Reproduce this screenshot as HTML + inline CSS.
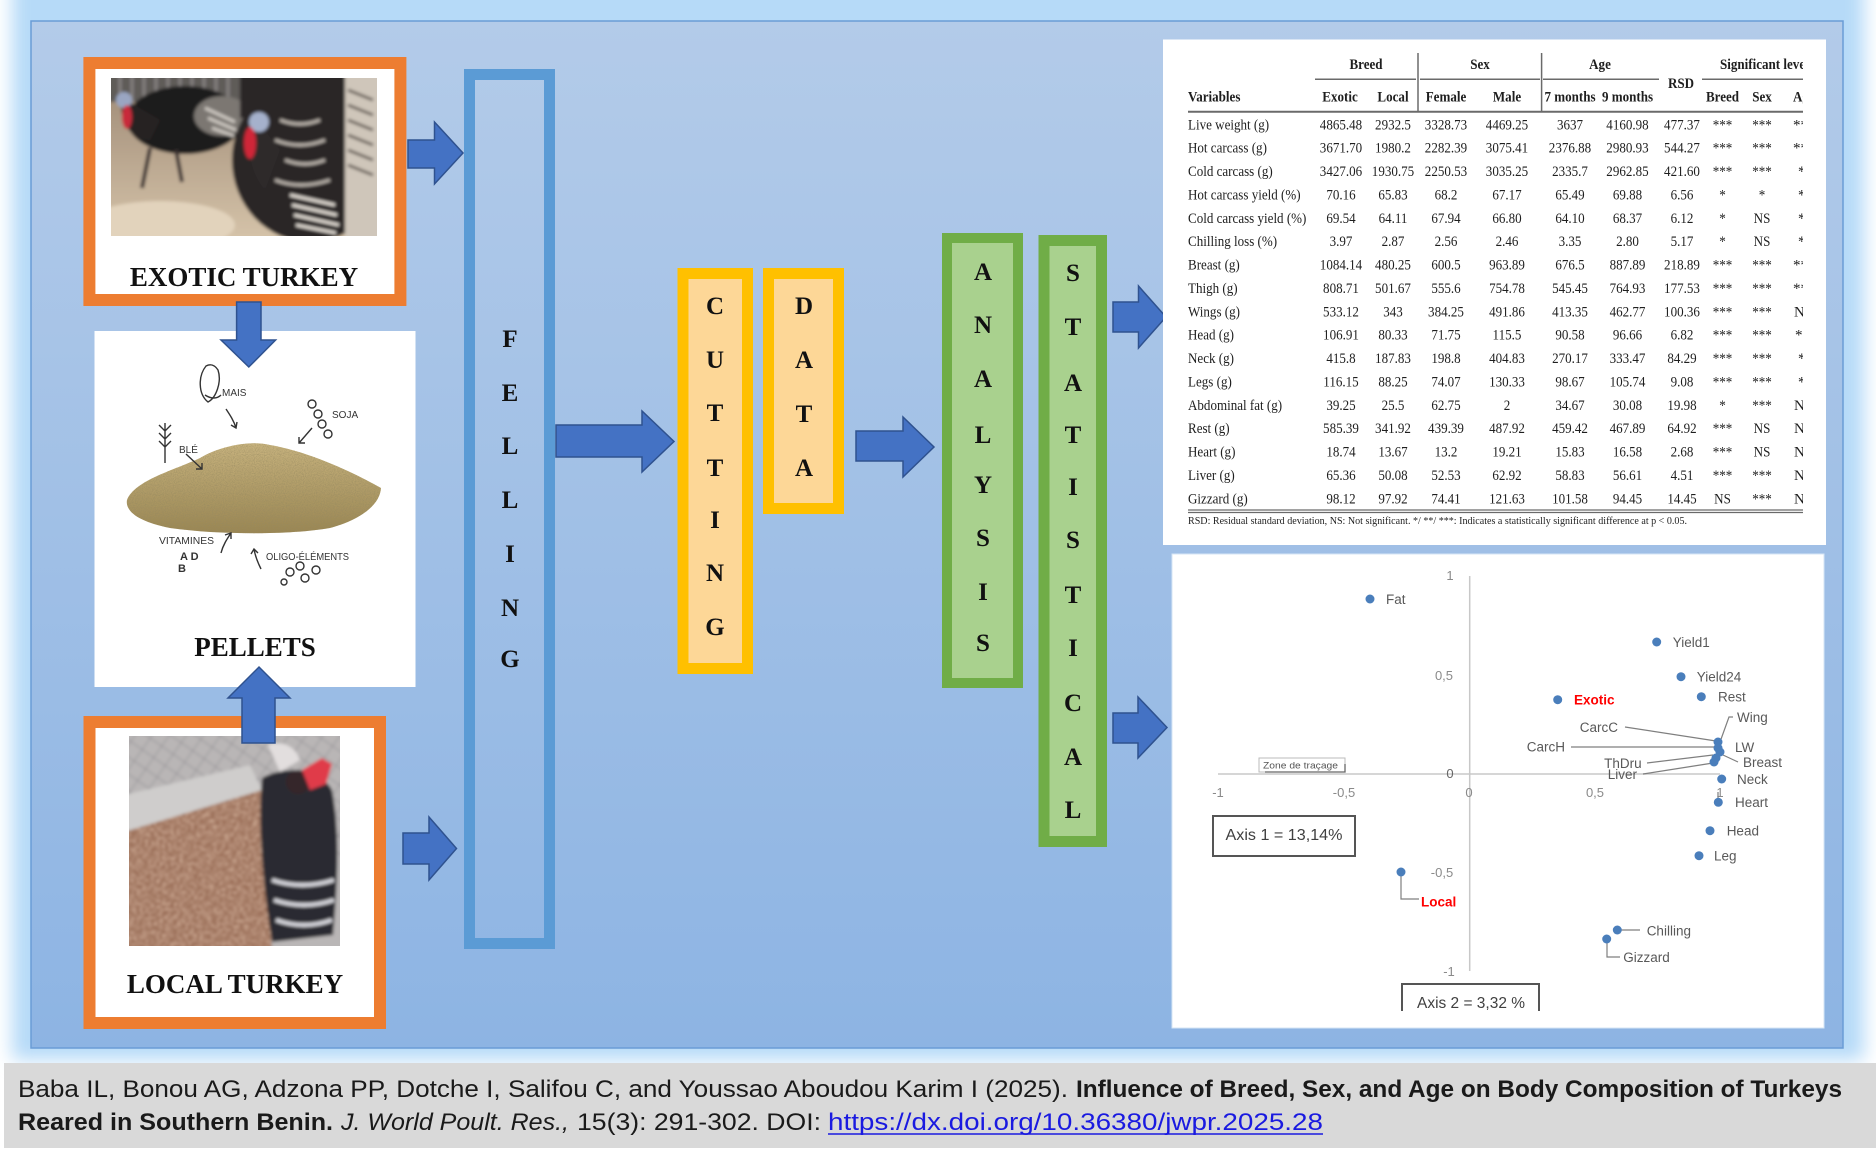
<!DOCTYPE html>
<html><head><meta charset="utf-8">
<style>
html,body{margin:0;padding:0;background:#fff;}
svg{display:block}
.tc{transform-box:fill-box;transform-origin:center;transform:scaleX(.87)}
.tl{transform-box:fill-box;transform-origin:left center;transform:scaleX(.87)}
</style></head>
<body>
<svg width="1876" height="1157" viewBox="0 0 1876 1157" xmlns="http://www.w3.org/2000/svg">
<defs>
  <linearGradient id="panel" x1="0" y1="0" x2="0" y2="1">
    <stop offset="0" stop-color="#b3cbe9"/>
    <stop offset="1" stop-color="#8db4e3"/>
  </linearGradient>
  <filter id="blur" x="-5%" y="-5%" width="110%" height="110%"><feGaussianBlur stdDeviation="9"/></filter>
  <filter id="soft" x="-5%" y="-5%" width="110%" height="110%"><feGaussianBlur stdDeviation="1.6"/></filter>
  <linearGradient id="floor" x1="0" y1="0" x2="0" y2="1">
    <stop offset="0" stop-color="#9c8874"/>
    <stop offset="1" stop-color="#d6c4aa"/>
  </linearGradient>
  <linearGradient id="pile" x1="0" y1="0" x2="0" y2="1">
    <stop offset="0" stop-color="#c9b47f"/>
    <stop offset="1" stop-color="#9a8652"/>
  </linearGradient>
  <filter id="grain"><feTurbulence type="fractalNoise" baseFrequency="0.9" numOctaves="2" result="n"/><feColorMatrix in="n" type="matrix" values="0 0 0 0 0.3  0 0 0 0 0.25  0 0 0 0 0.12  0 0 0 1.4 -0.5" result="c"/><feComposite in="c" in2="SourceGraphic" operator="in" result="t"/><feMerge><feMergeNode in="SourceGraphic"/><feMergeNode in="t"/></feMerge></filter>
  <filter id="litter"><feTurbulence type="fractalNoise" baseFrequency="0.35" numOctaves="2" result="n"/><feColorMatrix in="n" type="matrix" values="0 0 0 0 0.85  0 0 0 0 0.6  0 0 0 0 0.45  0 0 0 1.6 -0.6" result="c"/><feComposite in="c" in2="SourceGraphic" operator="in" result="t"/><feMerge><feMergeNode in="SourceGraphic"/><feMergeNode in="t"/></feMerge></filter>
  <clipPath id="cp1"><rect x="111" y="78" width="266" height="158"/></clipPath>
  <clipPath id="cp2"><rect x="129" y="736" width="211" height="210"/></clipPath>
  <clipPath id="cpt"><rect x="1163" y="40" width="640" height="505"/></clipPath>
  <pattern id="mesh" width="14" height="14" patternUnits="userSpaceOnUse" patternTransform="rotate(35)">
    <rect width="14" height="14" fill="none"/>
    <path d="M0 0 H14 M0 0 V14" stroke="#8e8c90" stroke-width="1.4"/>
  </pattern>
</defs>

<!-- outer glow -->
<rect x="0" y="0" width="1876" height="1157" fill="#fff"/>
<rect x="12" y="-30" width="1852" height="1090" fill="#b6daf8" filter="url(#blur)"/>
<!-- panel -->
<rect x="31" y="21" width="1812" height="1027" fill="url(#panel)" stroke="#6a9cd6" stroke-width="1.5"/>

<!-- footer -->
<rect x="4" y="1063" width="1872" height="85" fill="#d9d9d9"/>
<g font-family="Liberation Sans, Arial, sans-serif" font-size="24" fill="#1a1a1a">
  <text x="18" y="1097" textLength="1050" lengthAdjust="spacingAndGlyphs">Baba IL, Bonou AG, Adzona PP, Dotche I, Salifou C, and Youssao Aboudou Karim I (2025).</text>
  <text x="1076" y="1097" font-weight="bold" textLength="766" lengthAdjust="spacingAndGlyphs">Influence of Breed, Sex, and Age on Body Composition of Turkeys</text>
  <text x="18" y="1130" font-weight="bold" textLength="315" lengthAdjust="spacingAndGlyphs">Reared in Southern Benin.</text>
  <text x="341" y="1130" font-style="italic" textLength="228" lengthAdjust="spacingAndGlyphs">J. World Poult. Res.,</text>
  <text x="577" y="1130" textLength="244" lengthAdjust="spacingAndGlyphs">15(3): 291-302. DOI:</text>
  <text x="828" y="1130" fill="#1a1ae0" textLength="495" lengthAdjust="spacingAndGlyphs">https://dx.doi.org/10.36380/jwpr.2025.28</text>
  <line x1="828" y1="1134" x2="1323" y2="1134" stroke="#1a1ae0" stroke-width="1.5"/>
</g>

<!-- EXOTIC box -->
<rect x="89.4" y="63" width="311" height="237" fill="#fff" stroke="#ed7d31" stroke-width="12"/>
<g clip-path="url(#cp1)">
 <g filter="url(#soft)">
  <rect x="105" y="72" width="280" height="170" fill="url(#floor)"/>
  <rect x="105" y="72" width="141" height="30" fill="#5f5b59"/>
  <path d="M120 72V102M132 72V102M144 72V102M156 72V102M168 72V102M180 72V102M192 72V102M204 72V102M216 72V102M228 72V102" stroke="#858180" stroke-width="3"/>
  <ellipse cx="160" cy="225" rx="75" ry="24" fill="#e2d3bc"/>
  <ellipse cx="185" cy="120" rx="58" ry="34" fill="#1f1c1d"/>
  <ellipse cx="222" cy="116" rx="28" ry="20" fill="#7c7772"/>
  <path d="M205 108 l30 14 M208 118 l28 12 M212 128 l22 8" stroke="#d0cbc4" stroke-width="3"/>
  <path d="M150 148 L142 188 M176 150 L182 182" stroke="#3a3030" stroke-width="4"/>
  <path d="M122 98 C118 120 130 140 150 140 L160 120 Z" fill="#262224"/>
  <circle cx="124" cy="100" r="8" fill="#9aa6c2"/>
  <ellipse cx="127" cy="117" rx="5" ry="12" fill="#c82a3a"/>
  <rect x="240" y="72" width="145" height="46" fill="#2a2627"/>
  <ellipse cx="310" cy="160" rx="78" ry="82" fill="#2b2728"/>
  <rect x="345" y="72" width="40" height="170" fill="#cfc6ba"/>
  <path d="M348 90 l25 10 M348 105 l25 10 M348 120 l25 10 M348 135 l25 10 M348 150 l25 10 M348 165 l25 10" stroke="#6a625c" stroke-width="3"/>
  <path d="M280 120 q20 8 40 0 M275 140 q25 10 50 0 M285 160 q20 8 40 0 M275 180 q25 10 55 0" stroke="#bdb6ae" stroke-width="3" fill="none"/>
  <path d="M290 195 l45 10 M292 205 l45 10 M294 215 l45 10 M296 225 l40 8" stroke="#e6e0d8" stroke-width="3"/>
  <path d="M255 118 C245 140 248 170 265 190 L280 150 Z" fill="#2e2a2b"/>
  <circle cx="259" cy="122" r="10" fill="#a5b1cc"/>
  <ellipse cx="250" cy="143" rx="6" ry="16" fill="#d02838"/>
 </g>
</g>
<text x="244" y="286" text-anchor="middle" font-family="Liberation Serif, Times New Roman, serif" font-weight="bold" font-size="27" fill="#111">EXOTIC TURKEY</text>

<!-- PELLETS box -->
<rect x="94.5" y="331" width="321" height="356" fill="#fff"/>
<path d="M127,500 C135,480 175,470 200,458 C220,446 250,440 270,445 C300,450 340,465 381,488 C380,505 360,520 330,528 C290,535 220,535 170,528 C140,522 125,512 127,500 Z" fill="url(#pile)" filter="url(#grain)"/>
<g fill="none" stroke="#333" stroke-width="1.4">
  <path d="M206 366 c-8 10 -8 28 2 36 c8 -4 14 -20 10 -32 c-4 -6 -8 -6 -12 -4 z"/>
  <path d="M205 395 c6 4 12 4 16 0"/>
  <path d="M226 409 c4 6 8 12 10 19 m-5 -3 l5 3 l1 -6"/>
  <circle cx="312" cy="404" r="4"/><circle cx="318" cy="414" r="4"/><circle cx="322" cy="424" r="4"/><circle cx="328" cy="434" r="4"/>
  <path d="M312 428 l-13 15 m0 -6 l0 6 l6 0"/>
  <path d="M165 463 v-40 m0 8 l-6 -6 m6 14 l-6 -6 m6 14 l-6 -6 m6 -10 l6 -6 m-6 14 l6 -6 m-6 14 l6 -6"/>
  <path d="M186 454 l16 15 m-6 0 l6 0 l0 -6"/>
  <path d="M221 553 c2 -8 6 -14 10 -20 m-6 2 l6 -2 l0 6"/>
  <path d="M261 569 c-4 -8 -6 -14 -7 -20 m-3 5 l3 -5 l4 4"/>
  <circle cx="290" cy="572" r="4"/><circle cx="300" cy="566" r="4"/><circle cx="305" cy="578" r="4"/><circle cx="316" cy="570" r="4"/><circle cx="284" cy="582" r="3"/>
</g>
<g font-family="Liberation Sans, Arial, sans-serif" font-size="10" fill="#333">
  <text x="222" y="396">MAIS</text>
  <text x="332" y="418">SOJA</text>
  <text x="179" y="453">BLÉ</text>
  <text x="159" y="544" textLength="55" lengthAdjust="spacingAndGlyphs">VITAMINES</text>
  <text x="266" y="560" textLength="83" lengthAdjust="spacingAndGlyphs">OLIGO-ÉLÉMENTS</text>
  <text x="180" y="560" font-weight="bold" font-size="11">A  D</text>
  <text x="178" y="572" font-weight="bold" font-size="11">B</text>
</g>
<text x="255" y="656" text-anchor="middle" font-family="Liberation Serif, Times New Roman, serif" font-weight="bold" font-size="27" fill="#111">PELLETS</text>

<!-- LOCAL box -->
<rect x="89.5" y="722" width="290.5" height="301" fill="#fff" stroke="#ed7d31" stroke-width="12"/>
<g clip-path="url(#cp2)">
 <g filter="url(#soft)">
  <rect x="124" y="730" width="222" height="222" fill="#b9b6b6"/>
  <rect x="124" y="730" width="222" height="126" fill="url(#mesh)"/>
  <path d="M124 795 L250 765 L262 790 L124 832 Z" fill="#cfcdcc"/>
  <path d="M124 832 L262 790 L272 952 L124 952 Z" fill="#946650" filter="url(#litter)"/>
  <path d="M262 778 C285 765 320 768 332 790 C340 830 338 880 333 935 L272 942 C262 880 258 820 262 778 Z" fill="#2a2a31"/>
  <path d="M272 880 q30 10 62 0 M274 900 q30 10 60 0 M276 920 q28 10 56 0" stroke="#d8d8de" stroke-width="4" fill="none"/>
  <path d="M268 745 C280 740 295 745 300 760 L280 772 Z" fill="#e2dede"/>
  <circle cx="298" cy="782" r="12" fill="#35282a"/>
  <path d="M302 770 L322 758 L332 764 L326 784 L310 790 Z" fill="#e03a48"/>
 </g>
</g>
<text x="235" y="993" text-anchor="middle" font-family="Liberation Serif, Times New Roman, serif" font-weight="bold" font-size="27" fill="#111">LOCAL TURKEY</text>

<!-- arrows -->
<g fill="#4472c4" stroke="#2f528f" stroke-width="1.5" stroke-linejoin="miter">
  <polygon points="408,140 434.5,140 434.5,122 463,153 434.5,184 434.5,168 408,168"/>
  <polygon points="403,833 429,833 429,817 456.5,848.5 429,880 429,864 403,864"/>
  <polygon points="556,425 642,425 642,411 674,441.5 642,472 642,457 556,457"/>
  <polygon points="856,431 903,431 903,417 934,447 903,477 903,461 856,461"/>
  <polygon points="1113,302 1138.5,302 1138.5,286 1166,317 1138.5,348 1138.5,332 1113,332"/>
  <polygon points="1113,713 1138,713 1138,697 1167,727.5 1138,758 1138,743 1113,743"/>
  <polygon points="236.6,302 261,302 261,340 275.6,340 248.8,367 221,340 236.6,340"/>
  <polygon points="242,743 275,743 275,698 290,698 259,667 228,698 242,698"/>
</g>

<!-- FELLING -->
<rect x="469.5" y="74.5" width="80" height="869" fill="none" stroke="#5b9bd5" stroke-width="11"/>
<g font-family="Liberation Serif, Times New Roman, serif" font-weight="bold" font-size="25" fill="#111" text-anchor="middle">
  <text x="510" y="347">F</text><text x="510" y="401">E</text><text x="510" y="454">L</text><text x="510" y="508">L</text><text x="510" y="562">I</text><text x="510" y="616">N</text><text x="510" y="667">G</text>
</g>

<!-- CUTTING / DATA -->
<rect x="683" y="273.5" width="64.5" height="395" fill="#fdd797" stroke="#ffc000" stroke-width="11"/>
<rect x="768.5" y="273.5" width="70" height="235" fill="#fdd797" stroke="#ffc000" stroke-width="11"/>
<g font-family="Liberation Serif, Times New Roman, serif" font-weight="bold" font-size="25" fill="#111" text-anchor="middle">
  <text x="715" y="314">C</text><text x="715" y="368">U</text><text x="715" y="421">T</text><text x="715" y="476">T</text><text x="715" y="528">I</text><text x="715" y="581">N</text><text x="715" y="635">G</text>
  <text x="804" y="314">D</text><text x="804" y="368">A</text><text x="804" y="422">T</text><text x="804" y="476">A</text>
</g>

<!-- ANALYSIS / STATISTICAL -->
<rect x="947" y="238" width="71" height="445" fill="#a9d18e" stroke="#70ad47" stroke-width="10"/>
<rect x="1044" y="240.5" width="57.5" height="601" fill="#a9d18e" stroke="#70ad47" stroke-width="11"/>
<g font-family="Liberation Serif, Times New Roman, serif" font-weight="bold" font-size="25" fill="#111" text-anchor="middle">
  <text x="983" y="280">A</text><text x="983" y="333">N</text><text x="983" y="387">A</text><text x="983" y="443">L</text><text x="983" y="493">Y</text><text x="983" y="546">S</text><text x="983" y="600">I</text><text x="983" y="651">S</text>
  <text x="1073" y="281">S</text><text x="1073" y="335">T</text><text x="1073" y="391">A</text><text x="1073" y="443">T</text><text x="1073" y="495">I</text><text x="1073" y="548">S</text><text x="1073" y="603">T</text><text x="1073" y="656">I</text><text x="1073" y="711">C</text><text x="1073" y="765">A</text><text x="1073" y="818">L</text>
</g>

<!-- TABLE -->
<rect x="1163" y="39.5" width="663" height="505.5" fill="#fff"/>
<g clip-path="url(#cpt)" font-family="Liberation Serif, Times New Roman, serif" font-size="15" fill="#1e1e1e">
  <g stroke="#6a6a6a" stroke-width="1.5">
    <line x1="1315" y1="79.3" x2="1416" y2="79.3"/>
    <line x1="1420" y1="79.3" x2="1540" y2="79.3"/>
    <line x1="1543" y1="79.3" x2="1659" y2="79.3"/>
    <line x1="1702" y1="79.3" x2="1803" y2="79.3"/>
    <line x1="1418" y1="53" x2="1418" y2="112"/>
    <line x1="1541.6" y1="53" x2="1541.6" y2="112"/>
    <line x1="1188" y1="111.7" x2="1803" y2="111.7" stroke-width="2"/>
    <line x1="1188" y1="510" x2="1803" y2="510" stroke-width="1.3"/>
    <line x1="1188" y1="512.5" x2="1803" y2="512.5" stroke-width="1.3"/>
  </g>
  <g font-weight="bold" text-anchor="middle">
    <text class="tc" x="1366" y="69">Breed</text>
    <text class="tc" x="1480" y="69">Sex</text>
    <text class="tc" x="1600" y="69">Age</text>
    <text class="tc" x="1681" y="88">RSD</text>
    <text class="tl" x="1720" y="69" text-anchor="start">Significant level</text>
    <text class="tl" x="1188" y="101.7" text-anchor="start">Variables</text>
    <text class="tc" x="1340" y="101.7">Exotic</text>
    <text class="tc" x="1393" y="101.7">Local</text>
    <text class="tc" x="1446" y="101.7">Female</text>
    <text class="tc" x="1507" y="101.7">Male</text>
    <text class="tc" x="1570" y="101.7">7 months</text>
    <text class="tc" x="1627.5" y="101.7">9 months</text>
    <text class="tc" x="1722.5" y="101.7">Breed</text>
    <text class="tc" x="1762" y="101.7">Sex</text>
    <text class="tl" x="1793" y="101.7" text-anchor="start">Age</text>
  </g>
  <g text-anchor="middle">
    <text class="tl" x="1188" y="129.3" text-anchor="start">Live weight (g)</text>
    <text class="tc" x="1341" y="129.3">4865.48</text><text class="tc" x="1393" y="129.3">2932.5</text><text class="tc" x="1446" y="129.3">3328.73</text><text class="tc" x="1507" y="129.3">4469.25</text><text class="tc" x="1570" y="129.3">3637</text><text class="tc" x="1627.5" y="129.3">4160.98</text><text class="tc" x="1682" y="129.3">477.37</text><text class="tc" x="1722.5" y="129.3">***</text><text class="tc" x="1762" y="129.3">***</text><text x="1793" y="129.3" text-anchor="start">***</text>

    <text class="tl" x="1188" y="152.7" text-anchor="start">Hot carcass (g)</text>
    <text class="tc" x="1341" y="152.7">3671.70</text><text class="tc" x="1393" y="152.7">1980.2</text><text class="tc" x="1446" y="152.7">2282.39</text><text class="tc" x="1507" y="152.7">3075.41</text><text class="tc" x="1570" y="152.7">2376.88</text><text class="tc" x="1627.5" y="152.7">2980.93</text><text class="tc" x="1682" y="152.7">544.27</text><text class="tc" x="1722.5" y="152.7">***</text><text class="tc" x="1762" y="152.7">***</text><text x="1793" y="152.7" text-anchor="start">***</text>

    <text class="tl" x="1188" y="176.1" text-anchor="start">Cold carcass (g)</text>
    <text class="tc" x="1341" y="176.1">3427.06</text><text class="tc" x="1393" y="176.1">1930.75</text><text class="tc" x="1446" y="176.1">2250.53</text><text class="tc" x="1507" y="176.1">3035.25</text><text class="tc" x="1570" y="176.1">2335.7</text><text class="tc" x="1627.5" y="176.1">2962.85</text><text class="tc" x="1682" y="176.1">421.60</text><text class="tc" x="1722.5" y="176.1">***</text><text class="tc" x="1762" y="176.1">***</text><text x="1798" y="176.1" text-anchor="start">*</text>

    <text class="tl" x="1188" y="199.4" text-anchor="start">Hot carcass yield (%)</text>
    <text class="tc" x="1341" y="199.4">70.16</text><text class="tc" x="1393" y="199.4">65.83</text><text class="tc" x="1446" y="199.4">68.2</text><text class="tc" x="1507" y="199.4">67.17</text><text class="tc" x="1570" y="199.4">65.49</text><text class="tc" x="1627.5" y="199.4">69.88</text><text class="tc" x="1682" y="199.4">6.56</text><text class="tc" x="1722.5" y="199.4">*</text><text class="tc" x="1762" y="199.4">*</text><text x="1798" y="199.4" text-anchor="start">*</text>

    <text class="tl" x="1188" y="222.8" text-anchor="start">Cold carcass yield (%)</text>
    <text class="tc" x="1341" y="222.8">69.54</text><text class="tc" x="1393" y="222.8">64.11</text><text class="tc" x="1446" y="222.8">67.94</text><text class="tc" x="1507" y="222.8">66.80</text><text class="tc" x="1570" y="222.8">64.10</text><text class="tc" x="1627.5" y="222.8">68.37</text><text class="tc" x="1682" y="222.8">6.12</text><text class="tc" x="1722.5" y="222.8">*</text><text class="tc" x="1762" y="222.8">NS</text><text x="1798" y="222.8" text-anchor="start">*</text>

    <text class="tl" x="1188" y="246.2" text-anchor="start">Chilling loss (%)</text>
    <text class="tc" x="1341" y="246.2">3.97</text><text class="tc" x="1393" y="246.2">2.87</text><text class="tc" x="1446" y="246.2">2.56</text><text class="tc" x="1507" y="246.2">2.46</text><text class="tc" x="1570" y="246.2">3.35</text><text class="tc" x="1627.5" y="246.2">2.80</text><text class="tc" x="1682" y="246.2">5.17</text><text class="tc" x="1722.5" y="246.2">*</text><text class="tc" x="1762" y="246.2">NS</text><text x="1798" y="246.2" text-anchor="start">*</text>

    <text class="tl" x="1188" y="269.6" text-anchor="start">Breast (g)</text>
    <text class="tc" x="1341" y="269.6">1084.14</text><text class="tc" x="1393" y="269.6">480.25</text><text class="tc" x="1446" y="269.6">600.5</text><text class="tc" x="1507" y="269.6">963.89</text><text class="tc" x="1570" y="269.6">676.5</text><text class="tc" x="1627.5" y="269.6">887.89</text><text class="tc" x="1682" y="269.6">218.89</text><text class="tc" x="1722.5" y="269.6">***</text><text class="tc" x="1762" y="269.6">***</text><text x="1793" y="269.6" text-anchor="start">***</text>

    <text class="tl" x="1188" y="292.9" text-anchor="start">Thigh (g)</text>
    <text class="tc" x="1341" y="292.9">808.71</text><text class="tc" x="1393" y="292.9">501.67</text><text class="tc" x="1446" y="292.9">555.6</text><text class="tc" x="1507" y="292.9">754.78</text><text class="tc" x="1570" y="292.9">545.45</text><text class="tc" x="1627.5" y="292.9">764.93</text><text class="tc" x="1682" y="292.9">177.53</text><text class="tc" x="1722.5" y="292.9">***</text><text class="tc" x="1762" y="292.9">***</text><text x="1793" y="292.9" text-anchor="start">***</text>

    <text class="tl" x="1188" y="316.3" text-anchor="start">Wings (g)</text>
    <text class="tc" x="1341" y="316.3">533.12</text><text class="tc" x="1393" y="316.3">343</text><text class="tc" x="1446" y="316.3">384.25</text><text class="tc" x="1507" y="316.3">491.86</text><text class="tc" x="1570" y="316.3">413.35</text><text class="tc" x="1627.5" y="316.3">462.77</text><text class="tc" x="1682" y="316.3">100.36</text><text class="tc" x="1722.5" y="316.3">***</text><text class="tc" x="1762" y="316.3">***</text><text x="1794" y="316.3" text-anchor="start">NS</text>

    <text class="tl" x="1188" y="339.7" text-anchor="start">Head (g)</text>
    <text class="tc" x="1341" y="339.7">106.91</text><text class="tc" x="1393" y="339.7">80.33</text><text class="tc" x="1446" y="339.7">71.75</text><text class="tc" x="1507" y="339.7">115.5</text><text class="tc" x="1570" y="339.7">90.58</text><text class="tc" x="1627.5" y="339.7">96.66</text><text class="tc" x="1682" y="339.7">6.82</text><text class="tc" x="1722.5" y="339.7">***</text><text class="tc" x="1762" y="339.7">***</text><text x="1795" y="339.7" text-anchor="start">*</text>

    <text class="tl" x="1188" y="363.1" text-anchor="start">Neck (g)</text>
    <text class="tc" x="1341" y="363.1">415.8</text><text class="tc" x="1393" y="363.1">187.83</text><text class="tc" x="1446" y="363.1">198.8</text><text class="tc" x="1507" y="363.1">404.83</text><text class="tc" x="1570" y="363.1">270.17</text><text class="tc" x="1627.5" y="363.1">333.47</text><text class="tc" x="1682" y="363.1">84.29</text><text class="tc" x="1722.5" y="363.1">***</text><text class="tc" x="1762" y="363.1">***</text><text x="1798" y="363.1" text-anchor="start">*</text>

    <text class="tl" x="1188" y="386.4" text-anchor="start">Legs (g)</text>
    <text class="tc" x="1341" y="386.4">116.15</text><text class="tc" x="1393" y="386.4">88.25</text><text class="tc" x="1446" y="386.4">74.07</text><text class="tc" x="1507" y="386.4">130.33</text><text class="tc" x="1570" y="386.4">98.67</text><text class="tc" x="1627.5" y="386.4">105.74</text><text class="tc" x="1682" y="386.4">9.08</text><text class="tc" x="1722.5" y="386.4">***</text><text class="tc" x="1762" y="386.4">***</text><text x="1798" y="386.4" text-anchor="start">*</text>

    <text class="tl" x="1188" y="409.8" text-anchor="start">Abdominal fat (g)</text>
    <text class="tc" x="1341" y="409.8">39.25</text><text class="tc" x="1393" y="409.8">25.5</text><text class="tc" x="1446" y="409.8">62.75</text><text class="tc" x="1507" y="409.8">2</text><text class="tc" x="1570" y="409.8">34.67</text><text class="tc" x="1627.5" y="409.8">30.08</text><text class="tc" x="1682" y="409.8">19.98</text><text class="tc" x="1722.5" y="409.8">*</text><text class="tc" x="1762" y="409.8">***</text><text x="1794" y="409.8" text-anchor="start">NS</text>

    <text class="tl" x="1188" y="433.2" text-anchor="start">Rest (g)</text>
    <text class="tc" x="1341" y="433.2">585.39</text><text class="tc" x="1393" y="433.2">341.92</text><text class="tc" x="1446" y="433.2">439.39</text><text class="tc" x="1507" y="433.2">487.92</text><text class="tc" x="1570" y="433.2">459.42</text><text class="tc" x="1627.5" y="433.2">467.89</text><text class="tc" x="1682" y="433.2">64.92</text><text class="tc" x="1722.5" y="433.2">***</text><text class="tc" x="1762" y="433.2">NS</text><text x="1794" y="433.2" text-anchor="start">NS</text>

    <text class="tl" x="1188" y="456.6" text-anchor="start">Heart (g)</text>
    <text class="tc" x="1341" y="456.6">18.74</text><text class="tc" x="1393" y="456.6">13.67</text><text class="tc" x="1446" y="456.6">13.2</text><text class="tc" x="1507" y="456.6">19.21</text><text class="tc" x="1570" y="456.6">15.83</text><text class="tc" x="1627.5" y="456.6">16.58</text><text class="tc" x="1682" y="456.6">2.68</text><text class="tc" x="1722.5" y="456.6">***</text><text class="tc" x="1762" y="456.6">NS</text><text x="1794" y="456.6" text-anchor="start">NS</text>

    <text class="tl" x="1188" y="479.9" text-anchor="start">Liver (g)</text>
    <text class="tc" x="1341" y="479.9">65.36</text><text class="tc" x="1393" y="479.9">50.08</text><text class="tc" x="1446" y="479.9">52.53</text><text class="tc" x="1507" y="479.9">62.92</text><text class="tc" x="1570" y="479.9">58.83</text><text class="tc" x="1627.5" y="479.9">56.61</text><text class="tc" x="1682" y="479.9">4.51</text><text class="tc" x="1722.5" y="479.9">***</text><text class="tc" x="1762" y="479.9">***</text><text x="1794" y="479.9" text-anchor="start">NS</text>

    <text class="tl" x="1188" y="503.3" text-anchor="start">Gizzard (g)</text>
    <text class="tc" x="1341" y="503.3">98.12</text><text class="tc" x="1393" y="503.3">97.92</text><text class="tc" x="1446" y="503.3">74.41</text><text class="tc" x="1507" y="503.3">121.63</text><text class="tc" x="1570" y="503.3">101.58</text><text class="tc" x="1627.5" y="503.3">94.45</text><text class="tc" x="1682" y="503.3">14.45</text><text class="tc" x="1722.5" y="503.3">NS</text><text class="tc" x="1762" y="503.3">***</text><text x="1794" y="503.3" text-anchor="start">NS</text>
  </g>
  <text x="1188" y="524" font-size="11" textLength="499" lengthAdjust="spacingAndGlyphs">RSD: Residual standard deviation, NS: Not significant. */ **/ ***: Indicates a statistically significant difference at p &lt; 0.05.</text>
</g>

<!-- CHART -->
<rect x="1172" y="554" width="652" height="474" fill="#fff" stroke="#d6e6f6" stroke-width="1"/>
<g stroke="#c8c8c8" stroke-width="1.5">
  <line x1="1469.7" y1="576" x2="1469.7" y2="971"/>
  <line x1="1218" y1="774" x2="1720" y2="774"/>
</g>
<g font-family="Liberation Sans, Arial, sans-serif" font-size="13" fill="#8a8a8a" text-anchor="middle">
  <text x="1450" y="580">1</text>
  <text x="1444" y="680">0,5</text>
  <text x="1450" y="778" fill="#666">0</text>
  <text x="1442" y="877">-0,5</text>
  <text x="1449" y="976">-1</text>
  <text x="1218" y="797">-1</text>
  <text x="1344" y="797">-0,5</text>
  <text x="1469" y="797">0</text>
  <text x="1595" y="797">0,5</text>
  <text x="1720" y="797">1</text>
</g>
<!-- zone de tracage -->
<rect x="1259" y="758" width="86" height="14" fill="#fff" stroke="#bbb" stroke-width="1"/>
<text x="1263" y="768.5" font-family="Liberation Sans, Arial, sans-serif" font-size="9" fill="#555" textLength="75" lengthAdjust="spacingAndGlyphs">Zone de traçage</text>
<path d="M1265 772 H1345 V764" stroke="#666" stroke-width="1.3" fill="none"/>
<!-- axis boxes -->
<rect x="1213" y="816" width="142" height="40" fill="#fff" stroke="#555" stroke-width="2"/>
<text x="1284" y="840" text-anchor="middle" font-family="Liberation Sans, Arial, sans-serif" font-size="16" fill="#404040" textLength="117" lengthAdjust="spacingAndGlyphs">Axis 1 = 13,14%</text>
<path d="M1402 1011 V984 H1539 V1011" stroke="#555" stroke-width="2" fill="none"/>
<text x="1417" y="1008" font-family="Liberation Sans, Arial, sans-serif" font-size="16" fill="#404040" textLength="108" lengthAdjust="spacingAndGlyphs">Axis 2 = 3,32 %</text>
<!-- leaders -->
<g stroke="#7f7f7f" stroke-width="1.2" fill="none">
  <path d="M1401 872 V899 H1419"/>
  <path d="M1733 717 H1729 L1720 742"/>
  <path d="M1625 727 L1716 741"/>
  <path d="M1571 747 H1716"/>
  <path d="M1738 762 L1723 755"/>
  <path d="M1647 763 L1713 755"/>
  <path d="M1643 774 L1713 763"/>
  <path d="M1617 930 H1640"/>
  <path d="M1607 939 V957 H1620"/>
  <path d="M1718 802 V792"/>
</g>
<g fill="#4a7ebb">
  <circle cx="1370" cy="599" r="4.5"/>
  <circle cx="1656.7" cy="642" r="4.5"/>
  <circle cx="1681" cy="676.7" r="4.5"/>
  <circle cx="1701.3" cy="696.7" r="4.5"/>
  <circle cx="1557.7" cy="699.7" r="4.5"/>
  <circle cx="1718" cy="742" r="4.5"/>
  <circle cx="1718" cy="748" r="4.5"/>
  <circle cx="1720" cy="752" r="4.5"/>
  <circle cx="1716" cy="758" r="4.5"/>
  <circle cx="1714" cy="762" r="4.5"/>
  <circle cx="1721.7" cy="779" r="4.5"/>
  <circle cx="1718.3" cy="802.3" r="4.5"/>
  <circle cx="1710" cy="830.7" r="4.5"/>
  <circle cx="1699" cy="855.7" r="4.5"/>
  <circle cx="1617.3" cy="930" r="4.5"/>
  <circle cx="1606.7" cy="939" r="4.5"/>
  <circle cx="1401" cy="872" r="4.5"/>
</g>
<g font-family="Liberation Sans, Arial, sans-serif" font-size="13.5" fill="#595959">
  <text x="1386" y="604">Fat</text>
  <text x="1672.7" y="647">Yield1</text>
  <text x="1696.7" y="681.5">Yield24</text>
  <text x="1718" y="701.5">Rest</text>
  <text x="1737" y="722">Wing</text>
  <text x="1618" y="732" text-anchor="end">CarcC</text>
  <text x="1565" y="751.5" text-anchor="end">CarcH</text>
  <text x="1735" y="752">LW</text>
  <text x="1743" y="767">Breast</text>
  <text x="1641.7" y="768" text-anchor="end">ThDru</text>
  <text x="1637" y="779" text-anchor="end">Liver</text>
  <text x="1737" y="784">Neck</text>
  <text x="1735" y="807">Heart</text>
  <text x="1726.7" y="835.5">Head</text>
  <text x="1714" y="860.5">Leg</text>
  <text x="1646.7" y="935.5">Chilling</text>
  <text x="1623.3" y="962">Gizzard</text>
</g>
<g font-family="Liberation Sans, Arial, sans-serif" font-size="13.5" font-weight="bold" fill="#ff0000">
  <text x="1574" y="704.5">Exotic</text>
  <text x="1421" y="906.5">Local</text>
</g>
</svg>
</body></html>
